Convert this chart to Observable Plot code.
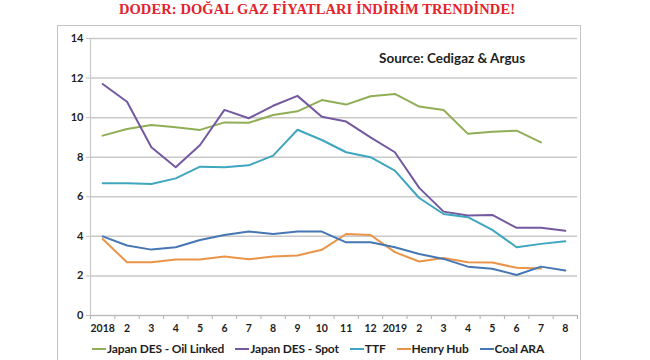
<!DOCTYPE html>
<html>
<head>
<meta charset="utf-8">
<script src="https://cdn.jsdelivr.net/npm/d3@7"></script>
<script src="https://cdn.jsdelivr.net/npm/@observablehq/plot@0.6"></script>
<style>
  html, body { margin: 0; padding: 0; background: #fff; }
  #wrap { position: relative; width: 650px; height: 360px; overflow: hidden; font-family: Lato, "Open Sans", sans-serif; }
  #title { position: absolute; top: 1px; left: 0; width: 634px; text-align: center; font-family: "Liberation Serif", "DejaVu Serif", serif; font-weight: bold; font-size: 14.5px; color: #e3232b; letter-spacing: 0.1px; }
  #box { position: absolute; left: 57px; top: 25px; width: 524px; height: 360px; border: 1px solid #c4c4c4; box-sizing: border-box; }
  #chart { position: absolute; left: 0; top: 0; }
  #source { position: absolute; left: 379px; top: 50px; font-weight: bold; font-size: 13.5px; color: #1e1e1e; }
  #legend { position: absolute; top: 341px; left: 92px; display: flex; gap: 11px; font-size: 12px; font-weight: bold; color: #1e1e1e; letter-spacing: -0.15px; }
  .item { white-space: nowrap; display: flex; align-items: center; }
  .sw { display: inline-block; width: 14px; height: 2px; margin-right: 1px; }
</style>
</head>
<body>
<div id="wrap">
  <div id="title">DODER: DOĞAL GAZ FİYATLARI İNDİRİM TRENDİNDE!</div>
  <div id="box"></div>
  <div id="chart"></div>
  <div id="source">Source: Cedigaz &amp; Argus</div>
  <div id="legend"></div>
</div>
<script>
const labels = ["2018","2","3","4","5","6","7","8","9","10","11","12","2019","2","3","4","5","6","7","8"];
const seriesNames = ["Japan DES - Oil Linked", "Japan DES - Spot", "TTF", "Henry Hub", "Coal ARA"];
const seriesColors = ["#8fae55", "#7459a0", "#3fa6bf", "#ea9448", "#4677b3"];
const oilLinked = [9.09, 9.43, 9.63, 9.51, 9.38, 9.76, 9.74, 10.13, 10.32, 10.89, 10.66, 11.08, 11.2, 10.56, 10.39, 9.18, 9.29, 9.34, 8.75, null];
const spot = [11.7, 10.8, 8.5, 7.49, 8.62, 10.39, 9.97, 10.6, 11.1, 10.05, 9.8, 9.0, 8.25, 6.45, 5.25, 5.05, 5.08, 4.43, 4.43, 4.28];
const ttf = [6.68, 6.68, 6.65, 6.93, 7.52, 7.49, 7.59, 8.08, 9.39, 8.87, 8.25, 8.0, 7.32, 5.94, 5.13, 4.97, 4.33, 3.45, 3.62, 3.75];
const henryHub = [3.87, 2.69, 2.69, 2.83, 2.83, 2.98, 2.84, 2.98, 3.03, 3.32, 4.12, 4.07, 3.2, 2.73, 2.91, 2.69, 2.68, 2.41, 2.37, null];
const coalARA = [4.0, 3.54, 3.33, 3.45, 3.82, 4.07, 4.24, 4.12, 4.24, 4.24, 3.70, 3.70, 3.45, 3.11, 2.86, 2.47, 2.36, 2.05, 2.47, 2.27];
const yTicks = [0, 2, 4, 6, 8, 10, 12, 14];

const allValues = [oilLinked, spot, ttf, henryHub, coalARA];
const rows = allValues.flatMap((vals, k) => vals.map((v, i) => ({i, v, s: seriesNames[k]})));
const idx = labels.map((_, i) => i);
const bounds = d3.range(labels.length + 1).map(i => i - 0.5);

const chart = Plot.plot({
  width: 650,
  height: 340,
  marginTop: 38,
  marginBottom: 25,
  marginLeft: 90,
  marginRight: 73,
  style: {fontFamily: "Lato, sans-serif", background: "transparent"},
  x: {domain: [-0.5, labels.length - 0.5]},
  y: {domain: [0, 14]},
  color: {domain: seriesNames, range: seriesColors},
  marks: [
    Plot.ruleY(yTicks, {stroke: "#c9c9c9", strokeWidth: 1.5}),
    Plot.ruleX([-0.5], {stroke: "#c9c9c9", strokeWidth: 1.2}),
    Plot.axisY({ticks: yTicks, tickSize: 4, tickPadding: 3, stroke: "#c0c0c0", fill: "#1e1e1e", fontWeight: "bold", fontSize: 11, label: null}),
    Plot.axisX({ticks: bounds, tickSize: 4, tickFormat: () => "", stroke: "#b0b0b0", label: null}),
    Plot.axisX({ticks: idx, tickSize: 0, tickPadding: 9, tickFormat: i => labels[i], fill: "#1e1e1e", fontWeight: "bold", fontSize: 10.5, label: null}),
    Plot.ruleY([0], {stroke: "#b8b8b8", strokeWidth: 1.2}),
    Plot.line(rows, {x: "i", y: "v", z: "s", stroke: "s", strokeWidth: 2})
  ]
});
document.getElementById("chart").appendChild(chart);

const legend = document.getElementById("legend");
seriesNames.forEach((n, k) => {
  const it = document.createElement("div");
  it.className = "item";
  it.innerHTML = `<span class="sw" style="background:${seriesColors[k]}"></span><span>${n}</span>`;
  legend.appendChild(it);
});
</script>
</body>
</html>
